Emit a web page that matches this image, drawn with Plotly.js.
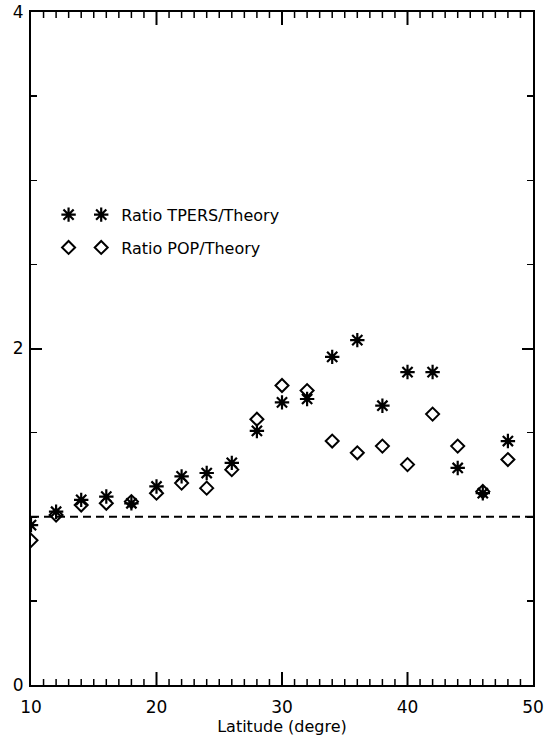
<!DOCTYPE html>
<html>
<head>
<meta charset="utf-8">
<script src="https://cdn.plot.ly/plotly-3.0.1.min.js"></script>
<style>html,body{margin:0;padding:0;background:#fff;}#chart{width:546px;height:740px;}</style>
</head>
<body>
<div id="chart"></div>
<script>
const latitude = [10, 12, 14, 16, 18, 20, 22, 24, 26, 28, 30, 32, 34, 36, 38, 40, 42, 44, 46, 48];
const ratioTPERS = [0.95, 1.03, 1.10, 1.12, 1.08, 1.18, 1.24, 1.26, 1.32, 1.51, 1.68, 1.70, 1.95, 2.05, 1.66, 1.86, 1.86, 1.29, 1.14, 1.45];
const ratioPOP = [0.86, 1.01, 1.07, 1.08, 1.09, 1.14, 1.20, 1.17, 1.28, 1.58, 1.78, 1.75, 1.45, 1.38, 1.42, 1.31, 1.61, 1.42, 1.15, 1.34];
const theoryLevel = 1;
const xRange = [10, 50];
const yRange = [0, 4];
const xMajorStep = 10, xMinorStep = 1;
const yMajorStep = 2, yMinorStep = 0.5;
const seriesNames = ['Ratio TPERS/Theory', 'Ratio POP/Theory'];

const FONT = 'DejaVu Sans, sans-serif';
const W = 546, H = 740;
const MARGIN = {l: 31, r: 13, t: 12, b: 55};
const starMarker = {symbol: 'asterisk-open', size: 12, color: '#000', line: {color: '#000', width: 2.2}};
const diamondMarker = {symbol: 'diamond-open', size: 10, color: '#000', line: {color: '#000', width: 2}};

const traces = [
  {x: latitude, y: ratioTPERS, type: 'scatter', mode: 'markers', name: seriesNames[0], marker: starMarker, legend: 'legend', legendgroup: 'a'},
  {x: latitude, y: ratioPOP, type: 'scatter', mode: 'markers', name: seriesNames[1], marker: diamondMarker, legend: 'legend', legendgroup: 'b'},
  {x: [null], y: [null], type: 'scatter', mode: 'markers', name: ' ', marker: starMarker, legend: 'legend2', legendgroup: 'c', showlegend: true},
  {x: [null], y: [null], type: 'scatter', mode: 'markers', name: ' ', marker: diamondMarker, legend: 'legend2', legendgroup: 'd', showlegend: true}
];

const tickFont = {family: FONT, size: 17, color: '#000'};

// x-axis tick marks (bottom and top, pointing inwards), lengths converted from pixels to y units
const yUnitsPerPx = (yRange[1] - yRange[0]) / (H - MARGIN.t - MARGIN.b);
const shapes = [{type: 'line', xref: 'paper', x0: 0, x1: 1, yref: 'y', y0: theoryLevel, y1: theoryLevel,
                 line: {color: '#000', width: 2, dash: '8px,5px'}}];
for (let v = xRange[0] + xMinorStep; v < xRange[1] - 1e-9; v += xMinorStep) {
  const major = Math.abs((v - xRange[0]) % xMajorStep) < 1e-9;
  const len = (major ? 13 : 6) * yUnitsPerPx;
  const w = major ? 2 : 1.5;
  shapes.push({type: 'line', xref: 'x', x0: v, x1: v, yref: 'y', y0: yRange[0], y1: yRange[0] + len,
               line: {color: '#000', width: w}});
  shapes.push({type: 'line', xref: 'x', x0: v, x1: v, yref: 'y', y0: yRange[1], y1: yRange[1] - len,
               line: {color: '#000', width: w}});
}

const layout = {
  width: W, height: H,
  margin: MARGIN,
  showlegend: true,
  xaxis: {
    range: xRange, tickmode: 'linear', tick0: xRange[0], dtick: xMajorStep,
    showline: true, linecolor: '#000', linewidth: 2, mirror: true,
    ticks: '', showgrid: false, zeroline: false, tickfont: tickFont, ticklabelstandoff: 6,
    title: {text: 'Latitude (degre)', font: {family: FONT, size: 16, color: '#000'}, standoff: 0}
  },
  yaxis: {
    range: yRange, tickmode: 'linear', tick0: yRange[0], dtick: yMajorStep,
    showline: true, linecolor: '#000', linewidth: 2, mirror: 'allticks',
    ticks: 'inside', ticklen: 11, tickwidth: 2, tickcolor: '#000',
    minor: {tickmode: 'linear', tick0: yRange[0], dtick: yMinorStep, ticks: 'inside', ticklen: 6, tickwidth: 1.5, tickcolor: '#000', showgrid: false},
    showgrid: false, zeroline: false, tickfont: tickFont, ticklabelstandoff: 2
  },
  shapes: shapes,
  legend: {x: 0.1, xanchor: 'left', y: 0.724, yanchor: 'top', bgcolor: 'rgba(0,0,0,0)', borderwidth: 0,
           font: {family: FONT, size: 16, color: '#000'}, traceorder: 'grouped', tracegroupgap: 9, itemwidth: 30},
  legend2: {x: 0.035, xanchor: 'left', y: 0.724, yanchor: 'top', bgcolor: 'rgba(0,0,0,0)', borderwidth: 0,
           font: {family: FONT, size: 16, color: '#000'}, traceorder: 'grouped', tracegroupgap: 9, itemwidth: 30}
};

Plotly.newPlot('chart', traces, layout, {displayModeBar: false, staticPlot: true});
</script>
</body>
</html>
